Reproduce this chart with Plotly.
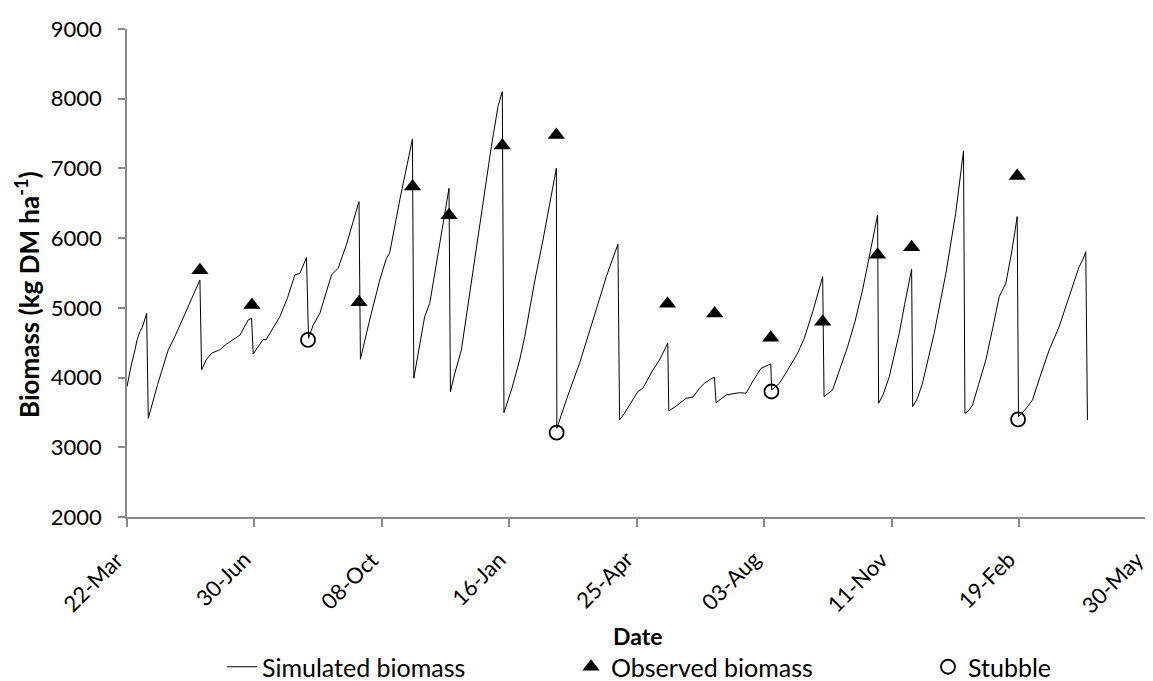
import pandas as pd
import plotly.graph_objects as go

START = pd.Timestamp("2011-03-22")

# Simulated biomass (days since 22-Mar-2011, kg DM/ha)
sim_day = [0, 3, 6.3, 8, 10.2, 12, 15.4, 16.7, 24, 32.4, 37.6, 45, 57.2, 58.5, 62, 66.4, 72.9, 78, 83.3,
           88.6, 95, 97.7, 99, 103, 106.8, 109, 114, 119.9, 126, 131.7, 135.6, 140.8, 142.4, 146, 151.3,
           156, 160.4, 165.6, 172, 182, 183.1, 190, 198.3, 203.5, 206, 214, 221.8, 223.9, 225, 229, 233.5,
           237.5, 243, 249.2, 252.6, 253.7, 257, 262.3, 272, 281.9, 285.8, 291, 294.4, 295.7, 302, 308,
           312, 320, 326.3, 336.8, 337.2, 345, 355, 368, 376, 385.1, 386.4, 390, 394.2, 400.7, 404.6,
           412.5, 417.7, 424.2, 425, 430, 438.6, 444, 449, 453, 458, 460.8, 462.1, 470, 476, 480.4, 485.6,
           491, 497.4, 505, 505.7, 511.8, 518, 526, 531.3, 538, 545.7, 546.8, 553.5, 559, 565.3, 571, 577,
           583, 588.8, 589.6, 593, 598, 605.8, 610, 615.5, 616.3, 620, 624, 633.2, 642.4, 650, 656.2,
           657.3, 660, 663.3, 668, 673.7, 679, 684.2, 689.4, 694, 698.3, 699.3, 705, 710.3, 716, 723.4,
           731.2, 739, 746.9, 750, 752.1, 753.4]
sim_biomass = [3870, 4150, 4400, 4550, 4660, 4720, 4920, 3416, 3900, 4400, 4590, 4900, 5400, 4109, 4250, 4350,
               4400, 4480, 4540, 4610, 4826, 4850, 4338, 4450, 4549, 4540, 4700, 4874, 5150, 5472, 5496, 5720,
               4564, 4750, 4922, 5200, 5472, 5568, 5900, 6524, 4263, 4800, 5400, 5711, 5783, 6550, 7265, 7419,
               3990, 4400, 4874, 5066, 5650, 6309, 6716, 3798, 4050, 4396, 5600, 6835, 7313, 7887, 8102, 3497,
               3850, 4252, 4587, 5400, 5974, 7002, 3272, 3700, 4205, 4970, 5450, 5912, 3392, 3480, 3607, 3798,
               3846, 4109, 4252, 4491, 3521, 3580, 3703, 3720, 3846, 3918, 3980, 4004, 3640, 3750, 3770, 3783,
               3775, 3950, 4133, 4195, 3822, 3918, 4100, 4348, 4564, 4950, 5448, 3726, 3822, 4100, 4443, 4800,
               5257, 5800, 6333, 3631, 3750, 4013, 4636, 5050, 5554, 3583, 3700, 3918, 4636, 5497, 6350, 7251,
               3487, 3520, 3607, 3900, 4252, 4700, 5161, 5353, 5800, 6309, 3439, 3550, 3679, 4000, 4396, 4731,
               5161, 5591, 5700, 5806, 3392]

# Observed biomass
obs_day = [57.2, 98, 182, 224, 252.6, 294.4, 336.8, 424, 461, 505, 545.7, 588.8, 615.5, 698.3]
obs_biomass = [5540, 5040, 5080, 6740, 6330, 7330, 7480, 5060, 4920, 4570, 4800, 5760, 5870, 6890]

# Stubble
stub_day = [142, 337, 505.5, 699]
stub_biomass = [4540, 3210, 3800, 3400]

tick_count = 9
tick_step_days = 100


def to_dates(days):
    return START + pd.to_timedelta(days, unit="D")


FONT = "Lato"
AXIS_GREY = "#898989"
W, H = 1145, 673          # page body has an 8px margin
ML, MT, PW, PH = 119, 21, 1020, 488

fig = go.Figure()
fig.add_trace(go.Scatter(x=to_dates(sim_day), y=sim_biomass, mode="lines", name="Simulated biomass",
                         line=dict(color="black", width=1), legend="legend"))
fig.add_trace(go.Scatter(x=to_dates(obs_day), y=obs_biomass, mode="markers", name="Observed biomass",
                         marker=dict(symbol="triangle-up", size=15, color="black"), legend="legend2"))
fig.add_trace(go.Scatter(x=to_dates(stub_day), y=stub_biomass, mode="markers", name="Stubble",
                         marker=dict(symbol="circle-open", size=14, color="black", line=dict(width=1.8)),
                         legend="legend3"))

tickvals = pd.date_range(START, periods=tick_count, freq=f"{tick_step_days}D")
x_end = tickvals[-1] + pd.Timedelta(hours=3)


def leg(xpx):
    return dict(orientation="h", xref="container", yref="container", x=xpx / W, xanchor="left",
                y=14 / H, yanchor="middle", font=dict(size=25, family=FONT, color="black"),
                bgcolor="rgba(0,0,0,0)")


# rotated date labels, anchored at their upper-right end just below each tick
tick_label_annotations = [
    dict(text=t.strftime("%d-%b"), x=t, xref="x", y=-(535 - (MT + PH)) / PH, yref="paper",
         showarrow=False, textangle=-45, xanchor="right", yanchor="top", xshift=4,
         font=dict(size=22))
    for t in tickvals
]

fig.update_layout(
    width=W, height=H,
    margin=dict(l=ML, r=W - ML - PW, t=MT, b=H - MT - PH),
    paper_bgcolor="white", plot_bgcolor="white",
    font=dict(family=FONT, size=22, color="black"),
    showlegend=True,
    legend=leg(214), legend2=leg(563), legend3=leg(920),
    xaxis=dict(type="date", range=[tickvals[0], x_end], tickvals=tickvals, showticklabels=False,
               showgrid=False, zeroline=False, showline=True, linecolor=AXIS_GREY,
               linewidth=1.5, ticks="outside", ticklen=8, tickcolor=AXIS_GREY, tickwidth=1.5,
               automargin=False),
    yaxis=dict(range=[2000, 9000], tickvals=list(range(2000, 9001, 1000)), showgrid=False, zeroline=False,
               showline=True, linecolor=AXIS_GREY, linewidth=1.5, ticks="outside", ticklen=7,
               tickcolor=AXIS_GREY, tickwidth=1.5, tickfont=dict(size=22), automargin=False,
               ticklabelstandoff=12),
    annotations=tick_label_annotations + [
        dict(text="<b>Date</b>", xref="paper", yref="paper", x=0.5, y=-(628 - (MT + PH)) / PH,
             showarrow=False, xanchor="center", yanchor="middle", font=dict(size=23)),
        dict(text="<b>Biomass (kg DM ha<sup>-1</sup>)</b>", xref="paper", yref="paper", x=(19 - ML) / PW,
             y=(MT + PH - 287) / PH, showarrow=False, textangle=-90, xanchor="center", yanchor="middle",
             font=dict(size=26)),
    ],
)

fig.write_html("out.html")
